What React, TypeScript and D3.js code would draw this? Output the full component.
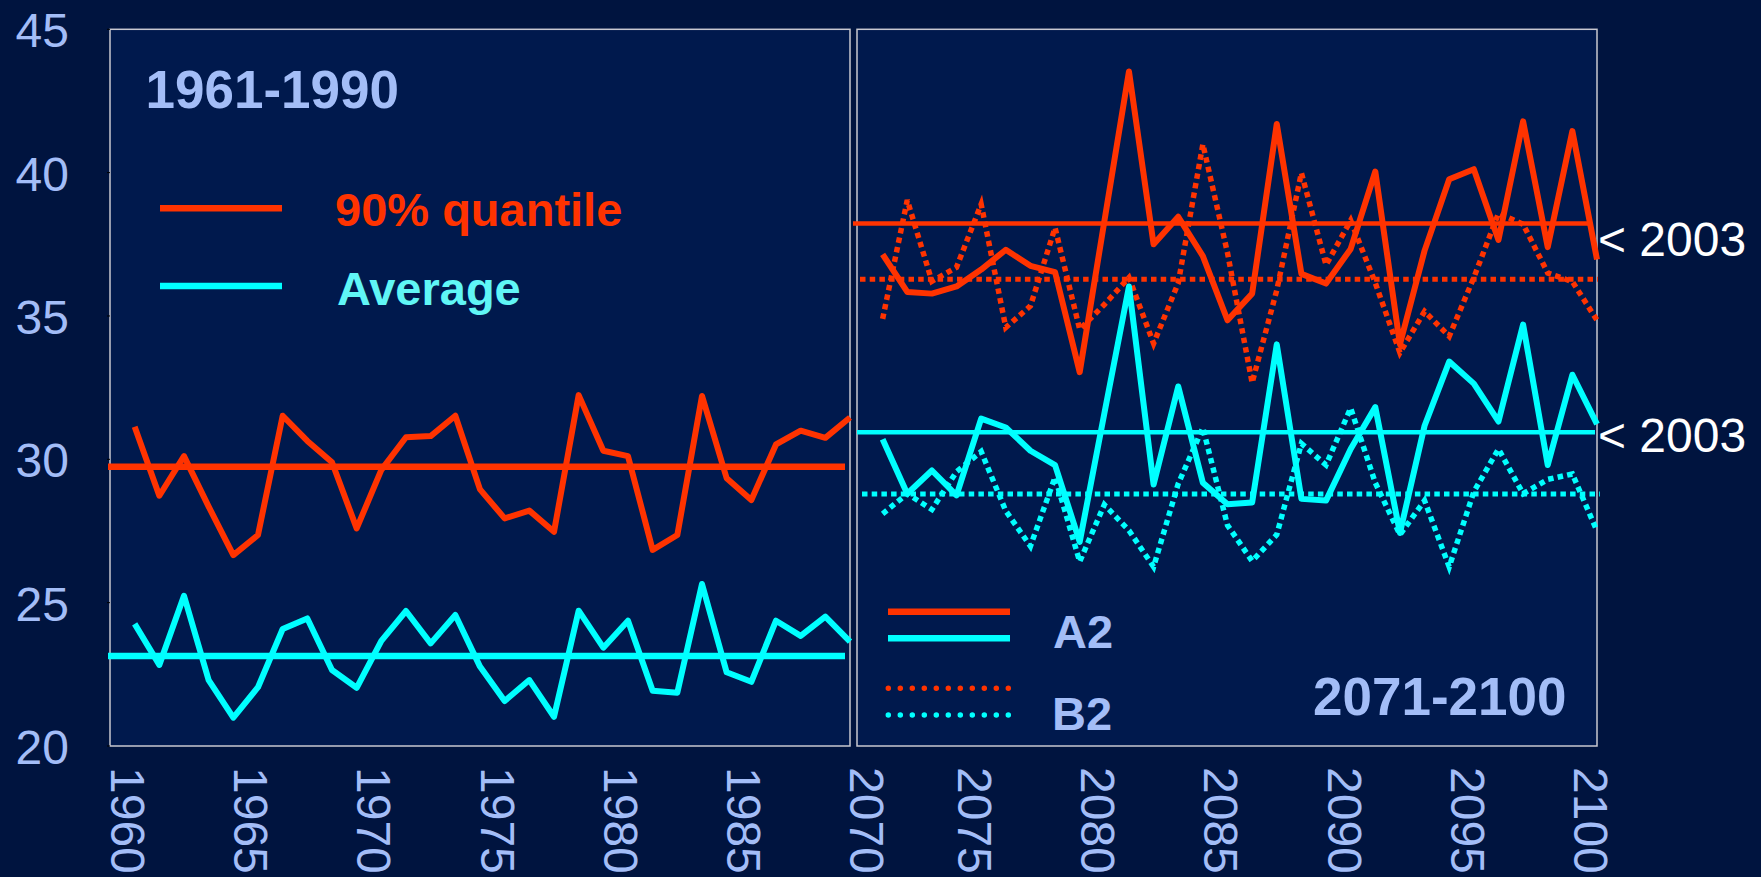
import React from "react";
import * as d3 from "d3";

// ---------- data ----------
const yearsBase = d3.range(1961, 1991);
const yearsFuture = d3.range(2071, 2101);

const q90Base = [31.14, 28.73, 30.11, 28.35, 26.66, 27.36, 31.52, 30.64, 29.9, 27.59, 29.63, 30.77, 30.81, 31.52, 28.95, 27.94, 28.21, 27.47, 32.24, 30.3, 30.11, 26.84, 27.36, 32.21, 29.34, 28.58, 30.52, 31.0, 30.75, 31.46];
const avgBase = [24.26, 22.83, 25.24, 22.3, 20.99, 22.05, 24.08, 24.45, 22.65, 22.03, 23.67, 24.71, 23.58, 24.57, 22.77, 21.57, 22.3, 21.02, 24.72, 23.43, 24.37, 21.93, 21.86, 25.65, 22.57, 22.24, 24.37, 23.84, 24.51, 23.64];

const q90A2 = [37.15, 35.84, 35.78, 36.03, 36.62, 37.31, 36.75, 36.53, 33.04, 38.3, 43.53, 37.5, 38.46, 37.09, 34.85, 35.78, 41.7, 36.47, 36.13, 37.34, 40.04, 34.01, 37.28, 39.77, 40.12, 37.65, 41.79, 37.4, 41.45, 36.97];
const q90B2 = [34.9, 39.04, 36.21, 36.7, 38.9, 34.6, 35.35, 38.08, 34.53, 35.4, 36.34, 34.04, 36.15, 40.99, 37.2, 32.67, 35.9, 39.99, 36.78, 38.33, 36.15, 33.72, 35.16, 34.29, 36.34, 38.58, 38.2, 36.5, 36.2, 34.85];
const avgA2 = [30.7, 28.8, 29.61, 28.74, 31.42, 31.11, 30.3, 29.8, 27.12, 31.6, 36.03, 29.12, 32.54, 29.18, 28.43, 28.49, 34.01, 28.62, 28.56, 30.36, 31.82, 27.43, 31.17, 33.41, 32.64, 31.32, 34.7, 29.8, 32.95, 31.23];
const avgB2 = [28.1, 28.8, 28.25, 29.57, 30.27, 28.2, 26.97, 29.38, 26.43, 28.42, 27.52, 26.25, 29.15, 31.1, 27.7, 26.45, 27.37, 30.55, 29.8, 31.79, 29.18, 27.37, 28.56, 26.25, 28.87, 30.36, 28.8, 29.3, 29.49, 27.5];

// period means (horizontal lines)
const meanQ90Base = 29.74;
const meanAvgBase = 23.14;
const meanQ90A2 = 38.23;
const meanQ90B2 = 36.28;
const meanAvgA2 = 30.94;
const meanAvgB2 = 28.79;

const yTicks = [20, 25, 30, 35, 40, 45];
const xTicksBase = [1960, 1965, 1970, 1975, 1980, 1985];
const xTicksFuture = [2070, 2075, 2080, 2085, 2090, 2095, 2100];

// ---------- style ----------
const W = 1761;
const H = 877;
const BG = "#00143f";
const PANEL = "#00194d";
const RED = "#ff3300";
const CYAN = "#00ffff";
const LABEL = "#a3bdf7";
const FONT = "'Liberation Sans', Arial, Helvetica, sans-serif";

export default function App() {
  const top = 29.3;
  const bottom = 746;
  const y = d3.scaleLinear().domain([20, 45]).range([bottom, top]);
  const xL = d3.scaleLinear().domain([1960, 1990]).range([110, 850]);
  const xR = d3.scaleLinear().domain([2070, 2100]).range([858, 1597]);

  const lineL = (vals: number[]) =>
    d3.line<number>().x((_, i) => xL(yearsBase[i])).y((v) => y(v))(vals) || "";
  const lineR = (vals: number[]) =>
    d3.line<number>().x((_, i) => xR(yearsFuture[i])).y((v) => y(v))(vals) || "";

  const dotted = "5.5 4.2";

  const labelX = (yr: number) => (yr === 2070 ? xL(1990) : xR(yr - 1) + 1.5);

  return (
    <div style={{ position: "absolute", left: 0, top: 0, width: W, height: H }}>
      <svg width={W} height={H} style={{ display: "block" }} fontFamily={FONT}>
        <rect x={0} y={0} width={W} height={H} fill={BG} />
        {/* panels */}
        <rect x={xL(1960)} y={top} width={xL(1990) - xL(1960)} height={bottom - top} fill={PANEL} stroke="#c8c8d0" strokeWidth={1.5} />
        <rect x={xR(2070) - 1} y={top} width={xR(2100) - xR(2070) + 1} height={bottom - top} fill={PANEL} stroke="#c8c8d0" strokeWidth={1.5} />

        {/* y ticks */}
        {yTicks.map((t) => (
          <g key={t}>
            <line x1={xL(1960) - 3} x2={xL(1960)} y1={y(t)} y2={y(t)} stroke="#000" strokeWidth={1} />
            <text x={69} y={y(t) + 18} fontSize={48} fill={LABEL} textAnchor="end">
              {t}
            </text>
          </g>
        ))}

        {/* x labels */}
        {xTicksBase.map((t) => (
          <text key={t} transform={`translate(${xL(t) + 0.5},767) rotate(90)`} fontSize={48} fill={LABEL}>
            {t}
          </text>
        ))}
        {xTicksFuture.map((t) => (
          <text key={t} transform={`translate(${labelX(t)},767) rotate(90)`} fontSize={48} fill={LABEL}>
            {t}
          </text>
        ))}

        {/* base period */}
        <line x1={108} x2={845} y1={y(meanQ90Base)} y2={y(meanQ90Base)} stroke={RED} strokeWidth={6.5} />
        <line x1={108} x2={845} y1={y(meanAvgBase)} y2={y(meanAvgBase)} stroke={CYAN} strokeWidth={6.5} />
        <path d={lineL(q90Base)} fill="none" stroke={RED} strokeWidth={6} strokeLinejoin="round" />
        <path d={lineL(avgBase)} fill="none" stroke={CYAN} strokeWidth={6} strokeLinejoin="round" />

        {/* future period means */}
        <line x1={853} x2={1588} y1={y(meanQ90A2)} y2={y(meanQ90A2)} stroke={RED} strokeWidth={4.5} />
        <line x1={860} x2={1598} y1={y(meanQ90B2)} y2={y(meanQ90B2)} stroke={RED} strokeWidth={5} strokeDasharray={dotted} />
        <line x1={857} x2={1595} y1={y(meanAvgA2)} y2={y(meanAvgA2)} stroke={CYAN} strokeWidth={4.5} />
        <line x1={862} x2={1600} y1={y(meanAvgB2)} y2={y(meanAvgB2)} stroke={CYAN} strokeWidth={5} strokeDasharray={dotted} />

        {/* future series */}
        <path d={lineR(q90B2)} fill="none" stroke={RED} strokeWidth={5.5} strokeDasharray={dotted} />
        <path d={lineR(avgB2)} fill="none" stroke={CYAN} strokeWidth={5.5} strokeDasharray={dotted} />
        <path d={lineR(q90A2)} fill="none" stroke={RED} strokeWidth={6} strokeLinejoin="round" />
        <path d={lineR(avgA2)} fill="none" stroke={CYAN} strokeWidth={6} strokeLinejoin="round" />

        {/* titles */}
        <text x={145.5} y={108} fontSize={53} fontWeight="bold" fill={LABEL}>1961-1990</text>
        <text x={1313} y={715} fontSize={53} fontWeight="bold" fill={LABEL}>2071-2100</text>

        {/* left legend */}
        <line x1={160} x2={282} y1={208.3} y2={208.3} stroke={RED} strokeWidth={6.5} />
        <text x={335} y={226} fontSize={47} fontWeight="bold" fill={RED}>90% quantile</text>
        <line x1={160} x2={282} y1={286} y2={286} stroke={CYAN} strokeWidth={6.5} />
        <text x={337} y={305} fontSize={47} fontWeight="bold" fill="#60f6f6">Average</text>

        {/* right legend */}
        <line x1={888} x2={1010} y1={611.7} y2={611.7} stroke={RED} strokeWidth={6.5} />
        <line x1={888} x2={1010} y1={638.3} y2={638.3} stroke={CYAN} strokeWidth={6.5} />
        <text x={1053} y={648.3} fontSize={47} fontWeight="bold" fill={LABEL}>A2</text>
        <line x1={888.3} x2={1010} y1={688.3} y2={688.3} stroke={RED} strokeWidth={5.5} strokeDasharray="0 12" strokeLinecap="round" />
        <line x1={888.3} x2={1010} y1={715} y2={715} stroke={CYAN} strokeWidth={5.5} strokeDasharray="0 12" strokeLinecap="round" />
        <text x={1052} y={730} fontSize={47} fontWeight="bold" fill={LABEL}>B2</text>

        {/* annotations */}
        <text x={1598} y={256} fontSize={48} fill="#ffffff">&lt; 2003</text>
        <text x={1598} y={451.7} fontSize={48} fill="#ffffff">&lt; 2003</text>
      </svg>
    </div>
  );
}
